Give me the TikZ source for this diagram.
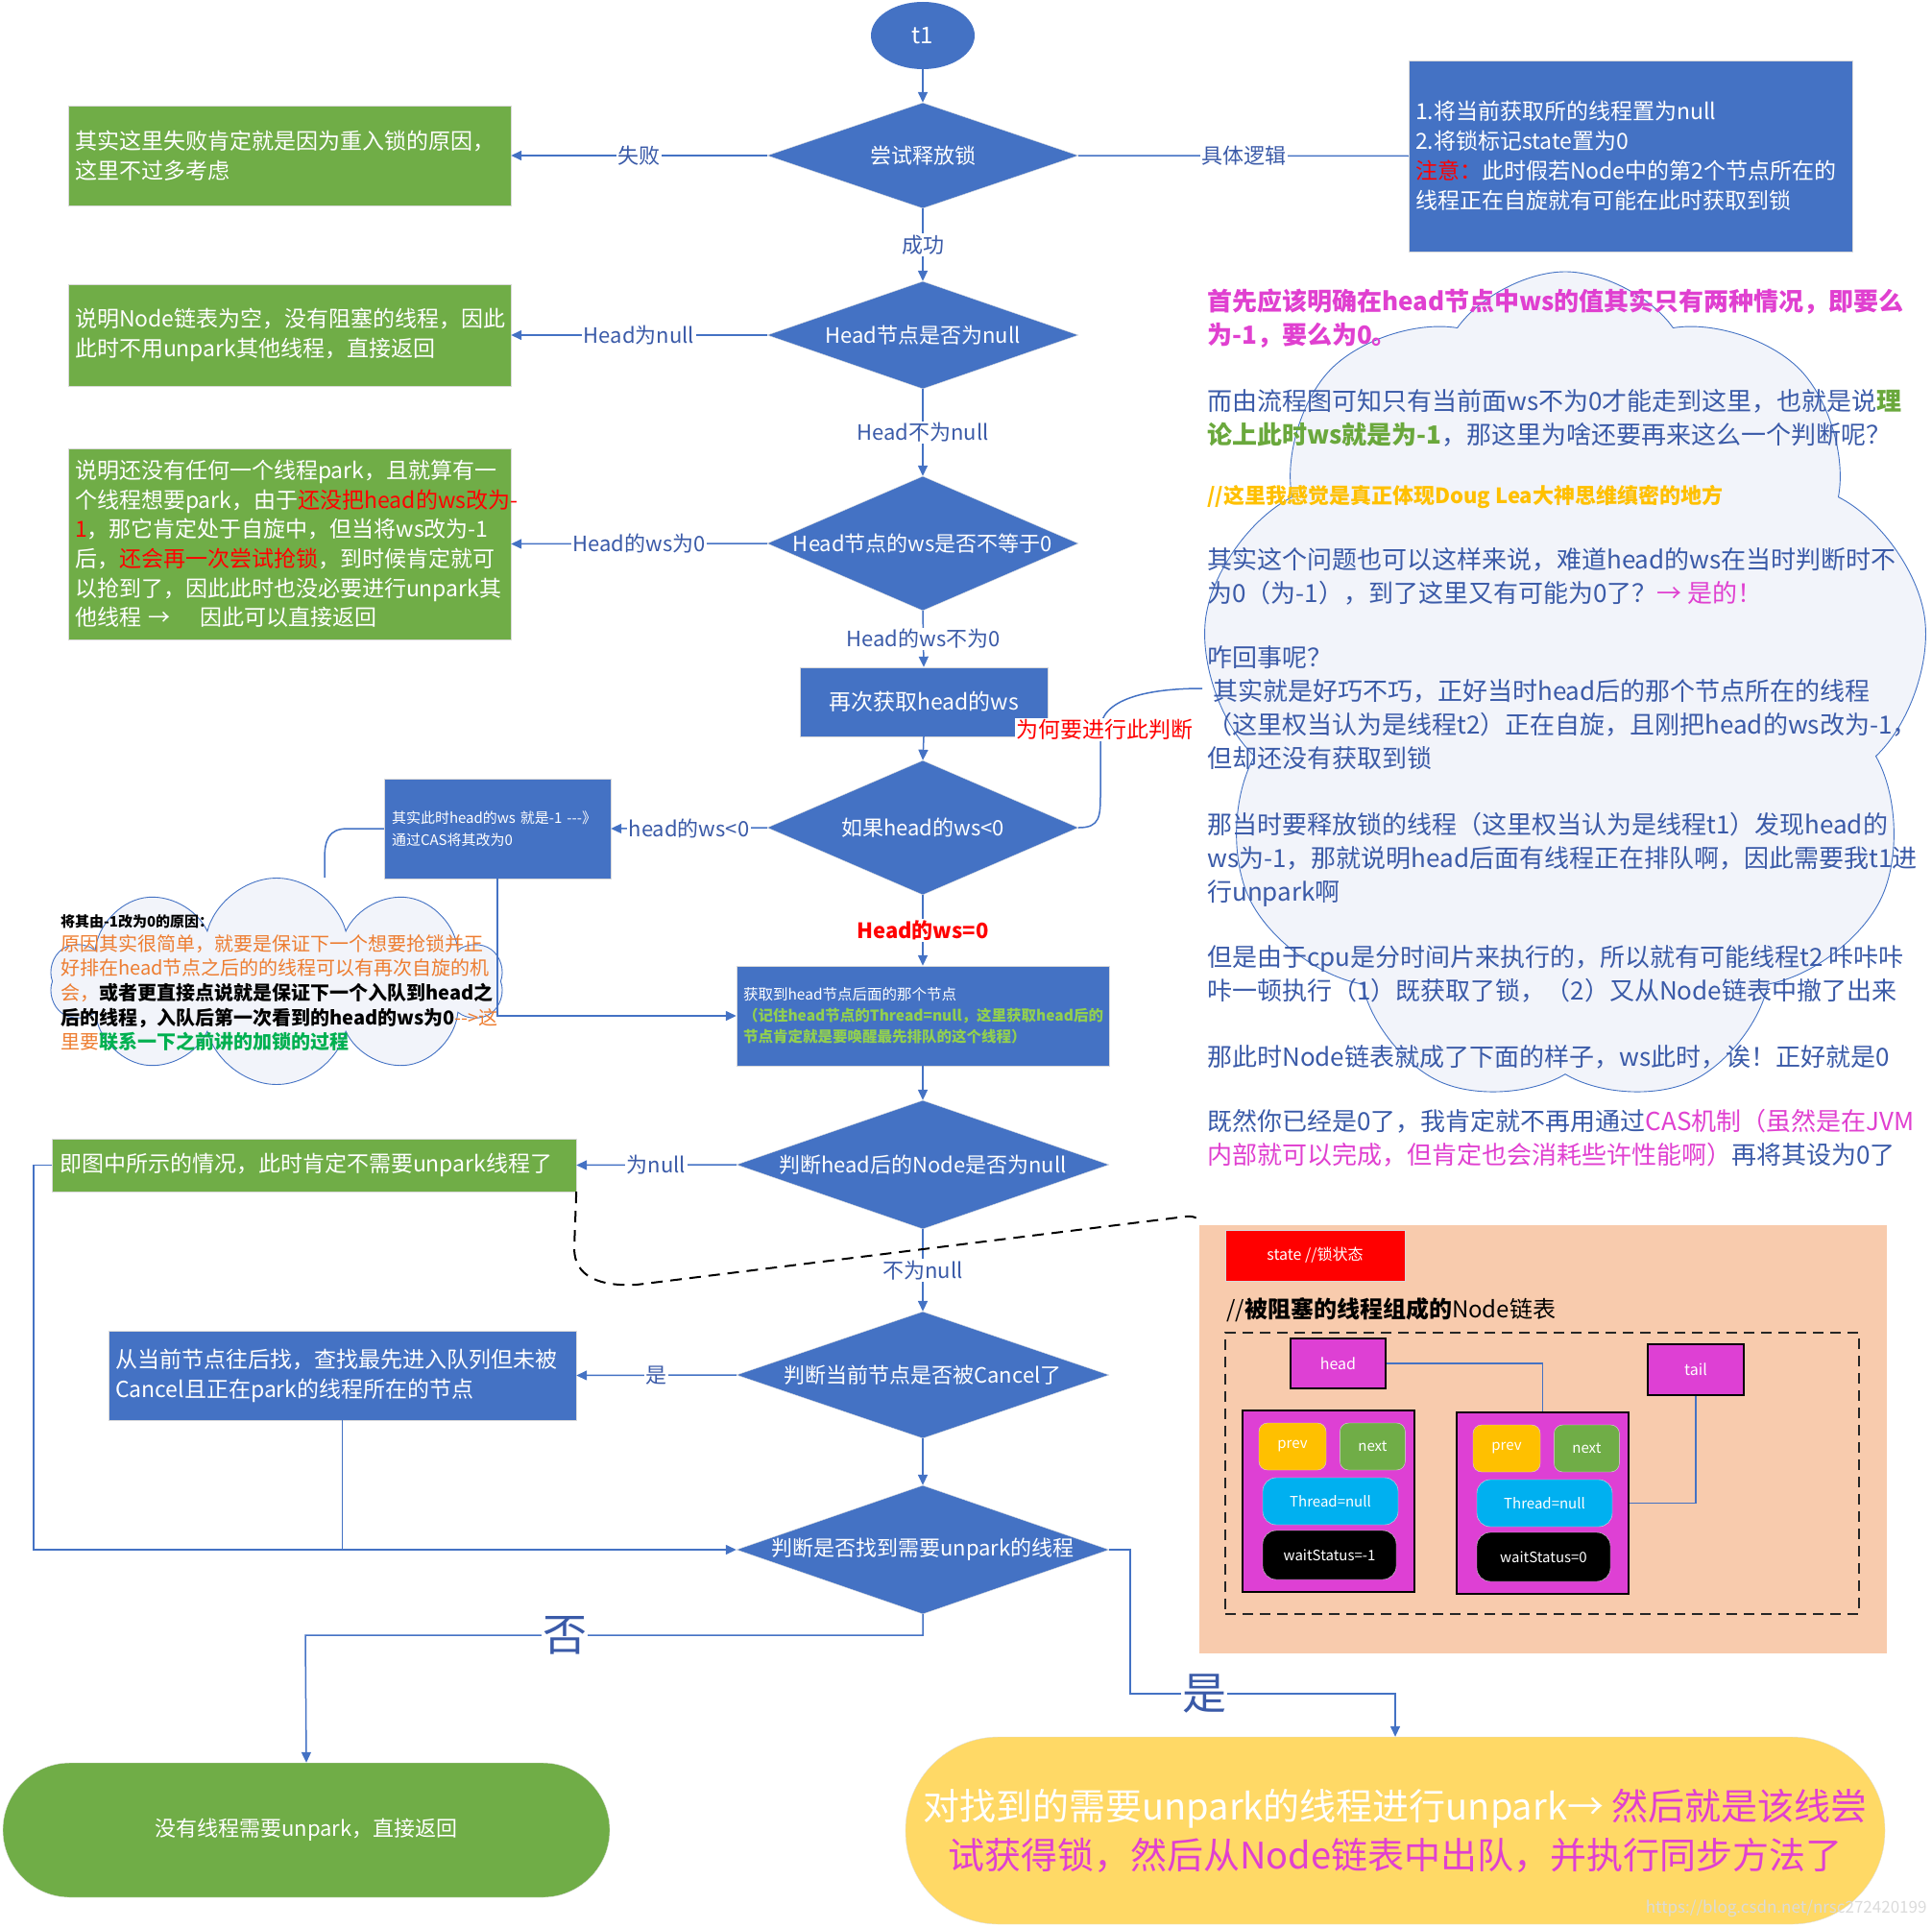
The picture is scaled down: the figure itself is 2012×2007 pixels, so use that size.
\documentclass[tikz,border=0pt]{standalone}
\usepackage{fontspec}
\setmainfont{Noto Sans CJK SC}
\usetikzlibrary{shapes,arrows}
\usetikzlibrary{positioning}
\usetikzlibrary{shapes.symbols}
\usetikzlibrary{arrows.meta}

\newcommand{\setsz}[2]{\fontsize{#1pt}{#2pt}\selectfont}

\definecolor{flowblue}{RGB}{68,114,196}
\definecolor{flowgreen}{RGB}{112,173,71}
\definecolor{labelblue}{RGB}{58,90,168}
\definecolor{hotpink}{RGB}{224,64,208}
\definecolor{notegreen}{RGB}{106,168,60}
\definecolor{litegreen}{RGB}{146,208,80}
\definecolor{keepgreen}{RGB}{0,176,80}
\definecolor{noteorange}{RGB}{237,125,49}
\definecolor{noteyellow}{RGB}{255,192,0}
\definecolor{peach}{RGB}{248,203,173}
\definecolor{nodepink}{RGB}{222,64,212}
\definecolor{prevyellow}{RGB}{255,192,0}
\definecolor{threadblue}{RGB}{0,176,240}
\definecolor{termyellow}{RGB}{255,217,102}
\definecolor{cloudfill}{RGB}{242,244,250}

\tikzstyle{line} = [draw=flowblue, line width=1.5pt, -{Triangle[length=11pt,width=10pt]}]
\tikzstyle{conn} = [draw=flowblue, line width=1.5pt]
\tikzstyle{decision} = [diamond, fill=flowblue, draw=gray!25, inner sep=0pt, minimum width=324pt, minimum height=110pt]
\tikzstyle{dtext} = [text=white, font=\setsz{22}{26}]
\tikzstyle{lbl} = [fill=white, text=labelblue, inner sep=1.5pt, font=\setsz{22}{26}]
\tikzstyle{biglbl} = [fill=white, text=labelblue, inner sep=1pt, font=\setsz{46}{50}]
\tikzstyle{greenbox} = [rectangle, fill=flowgreen, draw=gray!30, text=white, align=left, inner xsep=7pt, font=\setsz{23}{31}]
\tikzstyle{bluebox} = [rectangle, fill=flowblue, draw=gray!30, text=white, font=\setsz{23}{31}]
\tikzstyle{note} = [anchor=west, align=left, inner sep=0pt, text=labelblue, font=\setsz{26}{35}]
\tikzstyle{ptr} = [rectangle, fill=nodepink, draw=black, line width=1.2pt, text=white, font=\setsz{16}{20}]
\tikzstyle{part} = [rectangle, rounded corners=9pt, draw=white!70!gray, text=white, font=\setsz{15}{18}, inner sep=0pt]

\begin{document}
\begin{tikzpicture}[x=1pt, y=-1pt]
  \useasboundingbox (0,0) rectangle (2012,2007);

  %% Clouds
  \node [cloud, cloud puffs=9, cloud puff arc=110, cloud ignores aspect, minimum width=760pt, minimum height=870pt, draw=flowblue, line width=0.9pt, fill=cloudfill] (rcloud) at (1630,718) {};
  \node [cloud, cloud puffs=10, cloud ignores aspect, minimum width=470pt, minimum height=215pt, draw=flowblue, line width=0.9pt, fill=cloudfill] (lcloud) at (288,1022) {};
  \coordinate (cloudin) at (1252,717);

  %% Main column
  \node [ellipse, fill=flowblue, minimum width=108pt, minimum height=70pt, text=white, font=\setsz{24}{28}] (t1) at (961,37) {t1};
  \node [decision, label={[dtext]center:尝试释放锁}] (tryrelease) at (961,162) {};
  \node [decision, minimum height=112pt, label={[dtext]center:Head节点是否为null}] (headnull) at (961,349) {};
  \node [decision, minimum height=140pt, label={[dtext]center:Head节点的ws是否不等于0}] (wsnotzero) at (961,566) {};
  \node [bluebox, minimum width=258pt, minimum height=72pt] (getws) at (962,731) {再次获取head的ws};
  \node [decision, minimum height=140pt, label={[dtext]center:如果head的ws<0}] (wsneg) at (961,862) {};
  \node [bluebox, align=left, text width=374pt, inner xsep=7pt, minimum height=104pt, font=\setsz{15.5}{22}] (nextnode) at (961,1058) {获取到head节点后面的那个节点\\{\color{litegreen}\bfseries （记住head节点的Thread=null，这里获取head后的}\\{\color{litegreen}\bfseries 节点肯定就是要唤醒最先排队的这个线程）}};
  \node [decision, minimum width=388pt, minimum height=134pt, label={[dtext]center:判断head后的Node是否为null}] (nextnull) at (961,1213) {};
  \node [decision, minimum width=388pt, minimum height=132pt, label={[dtext]center:判断当前节点是否被Cancel了}] (iscancel) at (961,1432) {};
  \node [decision, minimum width=388pt, minimum height=134pt, label={[dtext]center:判断是否找到需要unpark的线程}] (found) at (961,1614) {};

  %% Side boxes
  \node [greenbox, text width=447pt, minimum height=104pt] (failnote) at (301.5,162) {其实这里失败肯定就是因为重入锁的原因，\\这里不过多考虑};
  \node [greenbox, text width=447pt, minimum height=106pt] (emptynote) at (301.5,349) {说明Node链表为空，没有阻塞的线程，因此\\此时不用unpark其他线程，直接返回};
  \node [greenbox, text width=447pt, minimum height=199pt, font=\setsz{23}{30.6}] (zeronote) at (301.5,566.5) {\mbox{说明还没有任何一个线程park，且就算有一}\\\mbox{个线程想要park，由于{\color{red}还没把head的ws改为-}}\\\mbox{{\color{red}1}，那它肯定处于自旋中，但当将ws改为-1}\\\mbox{后，{\color{red}还会再一次尝试抢锁}，到时候肯定就可}\\\mbox{以抢到了，因此此时也没必要进行unpark其}\\\mbox{他线程 → \ \ \ 因此可以直接返回}};
  \node [bluebox, align=left, text width=448pt, inner xsep=7pt, minimum height=199pt] (logic) at (1698,162.5) {1.将当前获取所的线程置为null\\2.将锁标记state置为0\\{\color{red}注意：}此时假若Node中的第2个节点所在的\\线程正在自旋就有可能在此时获取到锁};
  \node [bluebox, align=left, text width=220pt, inner xsep=8pt, minimum height=104pt, font=\setsz{15}{23}] (casnote) at (518,863) {其实此时head的ws 就是-1 -{}-{}-》\\通过CAS将其改为0};
  \node [greenbox, text width=530pt, inner xsep=8pt, minimum height=55pt] (nullnote) at (327,1213.5) {即图中所示的情况，此时肯定不需要unpark线程了};
  \node [bluebox, align=left, text width=473pt, inner xsep=7pt, minimum height=93pt] (findback) at (356.5,1432.5) {从当前节点往后找，查找最先进入队列但未被\\Cancel且正在park的线程所在的节点};

  %% Ends
  \node [rectangle, rounded corners=70pt, fill=flowgreen, draw=gray!25, minimum width=632pt, minimum height=140pt, text=white, font=\setsz{22}{26}] (noend) at (319,1906) {没有线程需要unpark，直接返回};
  \node [rectangle, rounded corners=97pt, fill=termyellow, draw=gray!25, minimum width=1020pt, minimum height=195pt, align=center, font=\setsz{38}{51}] (unparkend) at (1453,1906.5) {{\color{white}对找到的需要unpark的线程进行unpark→ }{\color{hotpink}然后就是该线尝}\\{\color{hotpink}试获得锁，然后从Node链表中出队，并执行同步方法了}};
  \node [anchor=east, text=white!72!gray, font=\setsz{17}{20}] (mark) at (2010,1988) {https://blog.csdn.net/nrsc272420199};

  %% Notes in the clouds
  \node [note] (why1) at (1257,332) {{\color{hotpink}\bfseries 首先应该明确在head节点中ws的值其实只有两种情况，即要么}\\{\color{hotpink}\bfseries 为-1，要么为0。}};
  \node [note] (why2) at (1257,435) {而由流程图可知只有当前面ws不为0才能走到这里，也就是说{\color{notegreen}\bfseries 理}\\{\color{notegreen}\bfseries 论上此时ws就是为-1}，那这里为啥还要再来这么一个判断呢？};
  \node [note, text=noteyellow, font=\setsz{22}{28}\bfseries] (why3) at (1257,518) {//这里我感觉是真正体现Doug Lea大神思维缜密的地方};
  \node [note] (why4) at (1257,600) {其实这个问题也可以这样来说，难道head的ws在当时判断时不\\为0（为-1），到了这里又有可能为0了？{\color{hotpink} → 是的！}};
  \node [note] (why5) at (1257,737.5) {咋回事呢？\\\hspace{6pt}其实就是好巧不巧，正好当时head后的那个节点所在的线程\\（这里权当认为是线程t2）正在自旋，且刚把head的ws改为-1，\\但却还没有获取到锁};
  \node [note] (why6) at (1257,895) {那当时要释放锁的线程（这里权当认为是线程t1）发现head的\\ws为-1，那就说明head后面有线程正在排队啊，因此需要我t1进\\行unpark啊};
  \node [note] (why7) at (1257,1014.5) {但是由于cpu是分时间片来执行的，所以就有可能线程t2 咔咔咔\\咔一顿执行（1）既获取了锁，（2）又从Node链表中撤了出来};
  \node [note] (why8) at (1257,1101) {那此时Node链表就成了下面的样子，ws此时，诶！正好就是0};
  \node [note] (why9) at (1257,1185) {既然你已经是0了，我肯定就不再用通过{\color{hotpink}CAS机制（虽然是在JVM}\\{\color{hotpink}内部就可以完成，但肯定也会消耗些许性能啊）}再将其设为0了};

  \node [anchor=west, inner sep=0pt, font=\setsz{15}{18}\bfseries] (reasontitle) at (63,960) {将其由-1改为0的原因：};
  \node [anchor=west, align=left, inner sep=0pt, font=\setsz{20}{25.6}] (reason) at (63,1034) {{\color{noteorange}原因其实很简单，就要是保证下一个想要抢锁并正}\\{\color{noteorange}好排在head节点之后的的线程可以有再次自旋的机}\\{\color{noteorange}会，}{\bfseries 或者更直接点说就是保证下一个入队到head之}\\{\bfseries 后的线程，入队后第一次看到的head的ws为0}{\color{noteorange} -{}->这}\\{\color{noteorange}里要}{\color{keepgreen}\bfseries 联系一下之前讲的加锁的过程}};

  %% Node chain
  \node [fill=peach, minimum width=716pt, minimum height=446pt, inner sep=0pt] (chainbg) at (1607,1498.5) {};
  \node [fill=red, draw=gray!30, minimum width=187pt, minimum height=53pt, text=white, font=\setsz{16}{20}] (statebox) at (1369.5,1307.5) {state //锁状态};
  \node [anchor=west, inner sep=0pt, font=\setsz{24}{28}] (chaintitle) at (1277,1364) {//{\bfseries 被阻塞的线程组成的}Node链表};
  \node [draw=black!85, dash pattern=on 11pt off 7pt, line width=2pt, minimum width=660pt, minimum height=293pt, inner sep=0pt] (chainbox) at (1606,1534) {};
  \node [ptr, minimum width=99pt, minimum height=52pt] (headptr) at (1393.5,1420) {head};
  \node [ptr, minimum width=100pt, minimum height=53pt] (tailptr) at (1766,1426.5) {tail};
  \node [ptr, minimum width=179pt, minimum height=189pt, inner sep=0pt] (nodeA) at (1383.5,1563.5) {};
  \node [ptr, minimum width=179pt, minimum height=189pt, inner sep=0pt] (nodeB) at (1606.5,1565.5) {};
  \node [part, fill=prevyellow, minimum width=70pt, minimum height=49pt] (prevA) at (1346,1506.5) {prev};
  \node [part, fill=flowgreen, minimum width=68pt, minimum height=49pt, right=14pt of prevA] (nextA) {next};
  \node [part, fill=threadblue, rounded corners=14pt, minimum width=141pt, minimum height=49pt] (threadA) at (1385.5,1563.5) {Thread=null};
  \node [part, fill=black, rounded corners=14pt, minimum width=139pt, minimum height=51pt] (waitA) at (1384.5,1619.5) {waitStatus=-1};
  \node [part, fill=prevyellow, minimum width=70pt, minimum height=49pt] (prevB) at (1569,1508.5) {prev};
  \node [part, fill=flowgreen, minimum width=68pt, minimum height=49pt, right=14pt of prevB] (nextB) {next};
  \node [part, fill=threadblue, rounded corners=14pt, minimum width=141pt, minimum height=49pt] (threadB) at (1608.5,1565.5) {Thread=null};
  \node [part, fill=black, rounded corners=14pt, minimum width=139pt, minimum height=51pt] (waitB) at (1607.5,1621.5) {waitStatus=0};
  \path [conn] (headptr.east) -| (nodeB.north);
  \path [conn] (tailptr.south) |- (nodeB.east);
  \coordinate (nobend) at (318,1703);
  \coordinate (yesbend) at (1453,1764);

  %% Flows
  \path [line] (t1) -- (tryrelease);
  \path [line] (tryrelease.west) -- node [lbl] {失败} (failnote.east);
  \path [conn] (tryrelease.east) -- node [lbl] {具体逻辑} (logic.west);
  \path [line] (tryrelease.south) -- node [lbl] {成功} (headnull.north);
  \path [line] (headnull.west) -- node [lbl] {Head为null} (emptynote.east);
  \path [line] (headnull.south) -- node [lbl] {Head不为null} (wsnotzero.north);
  \path [line] (wsnotzero.west) -- node [lbl] {Head的ws为0} (zeronote.east);
  \path [line] (wsnotzero.south) -- node [lbl] {Head的ws不为0} (getws.north);
  \path [line] (getws.south) -- (wsneg.north);
  \path [line] (wsneg.west) -- node [lbl] {head的ws<0} (casnote.east);
  \path [line] (wsneg.south) -- node [lbl, text=red, font=\setsz{22}{26}\bfseries] {Head的ws=0} (nextnode.north);
  \path [conn] (wsneg.east) .. controls (1146,862) and (1146,850) .. (1146,825) -- (1146,760) node [lbl, text=red, xshift=4pt, font=\setsz{23}{26}] {为何要进行此判断} .. controls (1146,728) and (1195,717) .. (cloudin);
  \path [conn] (casnote.west) -- (362,863) .. controls (342,863) and (338,875) .. (338,895) -- (lcloud.north -| 338,0);
  \path [line] (casnote.south) |- (nextnode.west);
  \path [line] (nextnode.south) -- (nextnull.north);
  \path [line] (nextnull.west) -- node [lbl] {为null} (nullnote.east);
  \path [line] (nextnull.south) -- node [lbl] {不为null} (iscancel.north);
  \path [line] (iscancel.west) -- node [lbl] {是} (findback.east);
  \path [line] (iscancel.south) -- (found.north);
  \path [line] (nullnote.west) -- ++(-19,0) |- (found.west);
  \path [conn] (findback.south) -- (findback.south |- found.west);
  \path [line] (found.south) |- node [biglbl, pos=0.79] {否} (nobend) -- (noend.north);
  \path [line] (found.east) -- (1177,1614) |- node [biglbl, pos=0.64] {是} (yesbend) -- (unparkend.north);
  \draw [black, line width=2pt, dash pattern=on 12pt off 8pt] (nullnote.south east) -- (598,1300) .. controls (598,1330) and (625,1340) .. (663,1338) -- (1235,1267) .. controls (1245,1266) and (1250,1270) .. (chainbg.north west);
\end{tikzpicture}
\end{document}
